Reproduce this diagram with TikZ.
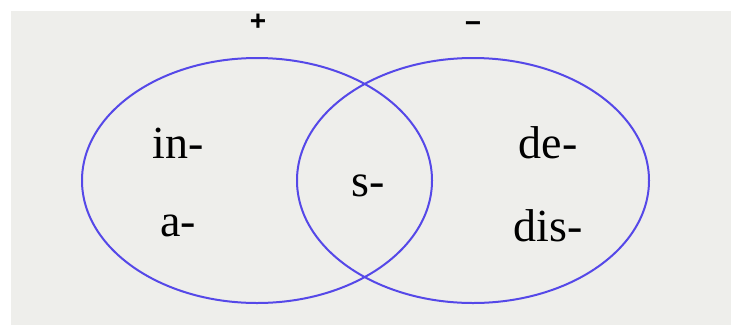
\documentclass[tikz,border=0pt]{standalone}
\usepackage{fontspec}
\setmainfont{Liberation Serif}
\newfontfamily\signfont{Liberation Sans}
\definecolor{slidegray}{RGB}{238,238,235}
\definecolor{vennblue}{RGB}{85,72,232}
\tikzset{
    affix/.style={inner sep=0pt, font=\fontsize{46}{46}\selectfont},
    signlabel/.style={inner sep=0pt, font=\signfont\bfseries\fontsize{28}{28}\selectfont},
    setline/.style={draw=vennblue, line width=2pt}
}
\begin{document}
\begin{tikzpicture}[x=1pt, y=-1pt]
    % Background
    \useasboundingbox[fill=white] (0,0) rectangle (731,325);
    \fill[slidegray] (11,11) rectangle (731,325);

    % Sets
    \draw[setline] (257,180.5) ellipse (175 and 122.5);
    \draw[setline] (473,180.5) ellipse (176 and 122.5);

    % Signs
    \node[signlabel] (plus) at (258,22) {+};
    \node[signlabel] (minus) at (473,27) {\symbol{"2212}};

    % Affixes
    \node[affix] (in) at (178,143) {in-};
    \node[affix] (a) at (178,226) {a-};
    \node[affix] (s) at (368,186) {s-};
    \node[affix] (de) at (548,143) {de-};
    \node[affix] (dis) at (548,226) {dis-};
\end{tikzpicture}
\end{document}
